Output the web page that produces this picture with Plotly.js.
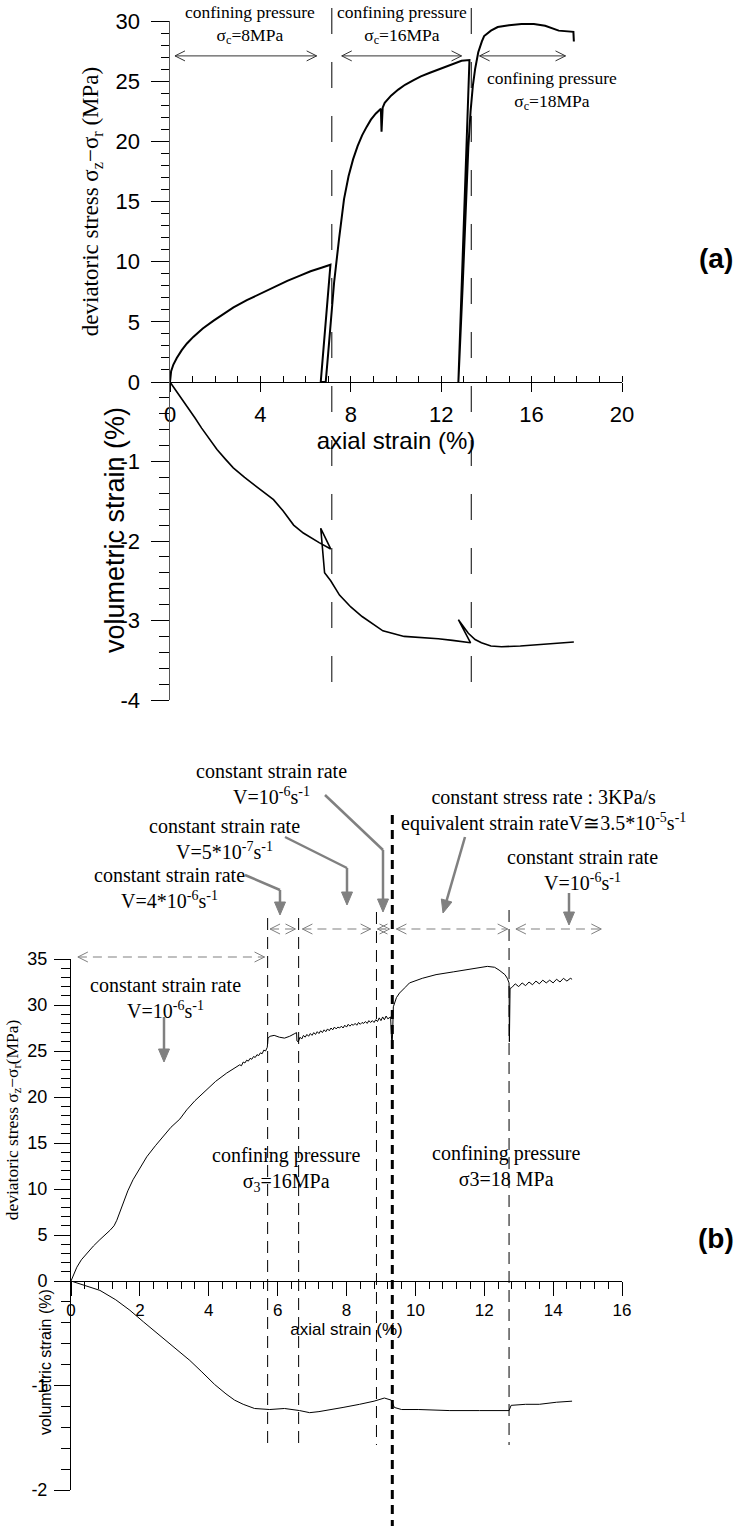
<!DOCTYPE html>
<html><head><meta charset="utf-8">
<script src="https://cdn.plot.ly/plotly-3.0.1.min.js"></script>
<style>html,body{margin:0;padding:0;background:#fff}#chart{width:741px;height:1528px}</style>
</head><body><div id="chart"></div>
<script>
// ---------- Panel (a) data ----------
const aStressStrain = [0,0.05,0.15,0.3,0.52,0.75,1.03,1.45,1.93,2.4,2.81,3.4,4.0,4.6,5.19,5.7,6.22,6.7,7.1,6.67,6.89,7.0,7.11,7.26,7.48,7.7,7.9,8.1,8.3,8.5,8.7,8.89,9.1,9.33,9.36,9.41,9.5,9.78,10.1,10.4,10.8,11.1,11.5,11.9,12.4,12.9,13.25,12.76,12.95,13.1,13.2,13.3,13.4,13.5,13.64,13.8,13.9,14.2,14.5,15.0,15.55,16.1,16.6,17.2,17.6,17.85,17.87];
const aStress = [0,0.9,1.45,2.0,2.65,3.2,3.75,4.45,5.1,5.7,6.2,6.8,7.35,7.9,8.4,8.8,9.2,9.5,9.75,0,0,2.4,4.6,8.25,11.9,15.2,17.1,18.5,19.6,20.5,21.2,21.8,22.3,22.7,20.8,22.8,23.2,23.8,24.3,24.7,25.1,25.4,25.7,26.0,26.35,26.7,26.75,0,8,15.2,19.5,22.5,24.6,26.0,27.4,28.3,28.75,29.2,29.5,29.65,29.75,29.75,29.6,29.2,29.15,29.1,28.3];
const aVolStrain = [0,0.3,0.75,1.1,1.4,1.75,2.08,2.45,2.8,3.3,3.86,4.58,5.0,5.47,5.9,6.22,6.6,7.11,6.67,6.84,7.11,7.5,8.0,8.5,8.9,9.42,10.36,11.0,11.87,12.5,13.2,13.3,12.76,13.0,13.2,13.5,13.78,14.2,14.67,15.5,16.3,17.1,17.87];
const aVol = [0,-0.12,-0.31,-0.45,-0.58,-0.72,-0.85,-0.97,-1.08,-1.2,-1.32,-1.48,-1.62,-1.8,-1.9,-1.96,-2.02,-2.1,-1.84,-2.4,-2.5,-2.68,-2.83,-2.95,-3.03,-3.13,-3.2,-3.21,-3.23,-3.25,-3.27,-3.28,-2.99,-3.08,-3.16,-3.24,-3.28,-3.32,-3.33,-3.32,-3.3,-3.28,-3.27];
const aBounds = [7.16, 13.33];
const aArrowStart = [0.22, 7.6, 13.7];
const aArrowEnd = [6.49, 12.9, 17.5];
const aArrowLevel = 27.1;
const aVolTicks = [-1,-2,-3,-4];
const aVolTickText = ['-1','-2','-3','-4'];

// ---------- Panel (b) data ----------
const bStrain = [0,0.1,0.17,0.3,0.46,0.65,0.84,1.0,1.13,1.25,1.33,1.42,1.51,1.65,1.8,2.0,2.2,2.45,2.67,2.9,3.16,3.36,3.6,3.94,4.2,4.52,4.8,
4.9,4.95,5.0,5.05,5.1,5.15,5.2,5.25,5.3,5.35,5.4,5.45,5.5,5.55,5.6,5.65,5.70,
5.72,5.78,5.9,6.05,6.2,6.35,6.5,6.55,6.56,6.60,
6.65,6.70,6.75,6.80,6.85,6.90,6.95,7.00,7.05,7.10,7.15,7.20,7.25,7.30,7.35,7.40,7.45,7.50,7.55,7.60,7.65,7.70,7.75,7.80,7.85,7.90,7.95,8.00,8.05,8.10,8.15,8.20,8.25,8.30,8.35,8.40,8.45,8.50,8.55,8.60,8.65,8.70,8.75,8.80,8.85,8.90,8.95,9.00,9.05,9.10,9.15,9.20,9.28,
9.30,9.32,9.34,9.36,9.45,9.54,9.7,9.83,10.2,10.6,11.1,11.57,12.09,12.3,12.43,12.6,12.67,12.72,12.73,12.75,
12.80,12.90,13.00,13.10,13.20,13.30,13.40,13.50,13.60,13.70,13.80,13.90,14.00,14.10,14.20,14.30,14.40,14.50,14.55];
const bStress = [0,0.8,1.5,2.3,3.0,3.8,4.5,5.0,5.5,6.0,6.6,7.5,8.5,9.8,11.0,12.3,13.5,14.7,15.7,16.7,17.6,18.6,19.6,20.8,21.7,22.6,23.3,
23.5,23.4,23.8,23.7,24.0,23.9,24.2,24.1,24.4,24.3,24.6,24.5,24.8,24.7,25.1,25.0,25.4,
26.4,26.6,26.7,26.5,26.4,26.6,26.9,27.0,26.1,26.0,
26.5,26.3,26.7,26.5,26.8,26.6,26.9,26.7,27.0,26.8,27.1,26.9,27.2,27.0,27.3,27.1,27.4,27.2,27.5,27.3,27.6,27.4,27.6,27.5,27.7,27.5,27.8,27.6,27.9,27.7,27.9,27.8,28.0,27.8,28.1,27.9,28.1,28.0,28.2,28.0,28.3,28.1,28.3,28.1,28.4,28.2,28.6,28.3,28.7,28.4,28.8,28.5,28.7,
27.5,25.4,27.0,29.8,30.8,31.3,31.9,32.4,32.9,33.3,33.6,33.9,34.2,34.1,33.8,33.3,32.9,32.4,26.0,31.8,
31.9,32.3,32.0,32.4,32.1,32.5,32.2,32.6,32.3,32.7,32.4,32.7,32.4,32.8,32.5,32.9,32.6,32.9,32.8];
const bVolStrain = [0,0.3,0.84,1.3,1.71,2.1,2.58,3.0,3.45,3.8,4.17,4.5,4.75,5.0,5.33,5.77,6.2,6.64,6.93,7.2,7.5,7.9,8.38,8.8,9.1,9.3,9.39,9.6,10.1,11.0,11.86,12.72,12.78,13.2,13.6,14.1,14.55];
const bVol = [0,-0.03,-0.09,-0.18,-0.28,-0.39,-0.52,-0.63,-0.76,-0.87,-0.99,-1.08,-1.14,-1.18,-1.22,-1.23,-1.22,-1.24,-1.26,-1.25,-1.23,-1.21,-1.18,-1.15,-1.12,-1.14,-1.21,-1.23,-1.23,-1.24,-1.24,-1.24,-1.19,-1.18,-1.18,-1.16,-1.15];
const bBounds = [5.71, 6.61, 8.87, 12.72];
const bBoundTops = [918, 918, 912, 910];
const bThickBound = 9.33;
const bArrowStart = [5.78, 6.72, 8.9, 9.45, 12.92];
const bArrowEnd = [6.52, 8.7, 9.25, 12.68, 15.4];
const bLongArrow = [0.2, 5.62];
const bVolTicks = [-1,-2];
const bVolTickText = ['-1','-2'];

// ---------- helpers ----------
const W = 741, H = 1528;
const PX = x => x / W;
const PY = y => 1 - y / H;
const SERIF = 'Liberation Serif, Times New Roman, serif';
const SANS = 'Liberation Sans, Arial, sans-serif';

const traces = [
  {x: aStressStrain, y: aStress, xaxis: 'x', yaxis: 'y', mode: 'lines', line: {color: '#000', width: 2}, hoverinfo: 'skip'},
  {x: aVolStrain, y: aVol, xaxis: 'x', yaxis: 'y2', mode: 'lines', line: {color: '#000', width: 1.6}, hoverinfo: 'skip'},
  {x: bStrain, y: bStress, xaxis: 'x2', yaxis: 'y3', mode: 'lines', line: {color: '#000', width: 1}, hoverinfo: 'skip'},
  {x: bVolStrain, y: bVol, xaxis: 'x2', yaxis: 'y4', mode: 'lines', line: {color: '#000', width: 1}, hoverinfo: 'skip'}
];

const shapes = [];
aBounds.forEach(b => shapes.push({type: 'line', xref: 'x', yref: 'paper', x0: b, x1: b, y0: PY(8), y1: PY(690), line: {color: '#000', width: 1, dash: '26px,28px'}}));
function chevrons(xref, yref, x0, x1, y, color) {
  shapes.push({type: 'path', xref: xref, yref: yref, xsizemode: 'pixel', ysizemode: 'pixel', xanchor: x0, yanchor: y, path: 'M10,5L0,0L10,-5', fillcolor: 'rgba(0,0,0,0)', line: {color: color, width: 1}});
  shapes.push({type: 'path', xref: xref, yref: yref, xsizemode: 'pixel', ysizemode: 'pixel', xanchor: x1, yanchor: y, path: 'M-10,5L0,0L-10,-5', fillcolor: 'rgba(0,0,0,0)', line: {color: color, width: 1}});
}
aArrowStart.forEach((s, i) => {
  shapes.push({type: 'line', xref: 'x', yref: 'y', x0: s, x1: aArrowEnd[i], y0: aArrowLevel, y1: aArrowLevel, line: {color: '#333', width: 1}});
  chevrons('x', 'y', s, aArrowEnd[i], aArrowLevel, '#333');
});
bBounds.forEach((b, i) => shapes.push({type: 'line', xref: 'x2', yref: 'paper', x0: b, x1: b, y0: PY(bBoundTops[i]), y1: PY(1445), line: {color: '#000', width: 1, dash: '12px,7px'}}));
shapes.push({type: 'line', xref: 'x2', yref: 'paper', x0: bThickBound, x1: bThickBound, y0: PY(815), y1: PY(1526), line: {color: '#000', width: 3, dash: '9px,6px'}});
bArrowStart.forEach((s, i) => {
  shapes.push({type: 'line', xref: 'x2', yref: 'paper', x0: s, x1: bArrowEnd[i], y0: PY(929), y1: PY(929), line: {color: '#808080', width: 1.2, dash: '9px,6px'}});
  chevrons('x2', 'paper', s, bArrowEnd[i], PY(929), '#808080');
});
shapes.push({type: 'line', xref: 'x2', yref: 'paper', x0: bLongArrow[0], x1: bLongArrow[1], y0: PY(957), y1: PY(957), line: {color: '#808080', width: 1.2, dash: '9px,6px'}});
chevrons('x2', 'paper', bLongArrow[0], bLongArrow[1], PY(957), '#808080');

// gray pointer arrows (pixel positions of the callouts)
const pointers = [
  [[325,795],[383,850],[383,912]],
  [[285,837],[347,868],[347,905]],
  [[245,875],[280,890],[280,915]],
  [[465,837],[443,913]],
  [[569,893],[569,925]],
  [[164,1017],[164,1062]]
];
pointers.forEach(pts => {
  for (let i = 0; i < pts.length - 1; i++) {
    let [xa, ya] = pts[i], [xb, yb] = pts[i + 1];
    if (i === pts.length - 2) {
      const dx = xb - xa, dy = yb - ya, L = Math.hypot(dx, dy);
      xb = xb - dx / L * 9; yb = yb - dy / L * 9;
    }
    shapes.push({type: 'line', xref: 'paper', yref: 'paper', x0: PX(xa), y0: PY(ya), x1: PX(xb), y1: PY(yb), line: {color: '#808080', width: 2.5}});
  }
  const [xa, ya] = pts[pts.length - 2], [xt, yt] = pts[pts.length - 1];
  const dx = xt - xa, dy = -(yt - ya), L = Math.hypot(dx, dy);
  const ux = dx / L, uy = dy / L;
  const bx = -ux * 13, by = -uy * 13, nx = -uy * 5.5, ny = ux * 5.5;
  shapes.push({type: 'path', xref: 'paper', yref: 'paper', xsizemode: 'pixel', ysizemode: 'pixel', xanchor: PX(xt), yanchor: PY(yt),
    path: `M0,0L${(bx + nx).toFixed(2)},${(by + ny).toFixed(2)}L${(bx - nx).toFixed(2)},${(by - ny).toFixed(2)}Z`,
    fillcolor: '#808080', line: {color: '#808080', width: 1}});
});

function txt(text, x, y, size, family, extra) {
  return Object.assign({text: text, xref: 'paper', yref: 'paper', x: PX(x), y: PY(y), xanchor: 'center', yanchor: 'middle', showarrow: false, font: {family: family, size: size, color: '#000'}}, extra || {});
}
const annotations = [
  txt('confining pressure<br>σ<sub>c</sub>=8MPa', 250, 25, 17.5, SERIF),
  txt('confining pressure<br>σ<sub>c</sub>=16MPa', 402, 25, 17.5, SERIF),
  txt('confining pressure<br>σ<sub>c</sub>=18MPa', 552, 90, 17.5, SERIF),
  txt('<b>(a)</b>', 716, 258, 28, SANS),
  txt('volumetric strain (%)', 115, 530, 27, SANS, {textangle: -90}),
  txt('constant strain rate<br>V=10<sup>-6</sup>s<sup>-1</sup>', 271, 784, 20, SERIF),
  txt('constant strain rate<br>V=5*10<sup>-7</sup>s<sup>-1</sup>', 224, 839, 20, SERIF),
  txt('constant strain rate<br>V=4*10<sup>-6</sup>s<sup>-1</sup>', 169, 888, 20, SERIF),
  txt('constant stress rate : 3KPa/s<br>equivalent strain rateV≅3.5*10<sup>-5</sup>s<sup>-1</sup>', 543, 810, 20, SERIF),
  txt('constant strain rate<br>V=10<sup>-6</sup>s<sup>-1</sup>', 582, 870, 20, SERIF),
  txt('constant strain rate<br>V=10<sup>-6</sup>s<sup>-1</sup>', 165, 998, 20, SERIF),
  txt('confining pressure<br>σ<sub>3</sub>=16MPa', 286, 1169, 20, SERIF),
  txt('confining pressure<br>σ3=18 MPa', 506, 1166, 20, SERIF),
  txt('<b>(b)</b>', 716, 1238, 28, SANS),
  txt('volumetric strain (%)', 45, 1362, 16, SANS, {textangle: -90})
];

const axBase = {showgrid: false, zeroline: false, showline: true, linecolor: '#000', linewidth: 1, tickcolor: '#000', tickwidth: 1, fixedrange: true};
const layout = {
  width: W, height: H, margin: {l: 0, r: 0, t: 0, b: 0, pad: 0},
  paper_bgcolor: '#fff', plot_bgcolor: 'rgba(0,0,0,0)', showlegend: false,
  xaxis: Object.assign({}, axBase, {domain: [PX(170), PX(622)], range: [0, 20], anchor: 'y', tick0: 0, dtick: 4,
    ticks: 'outside', ticklen: 9, minor: {dtick: 1, tick0: 0, ticks: 'inside', ticklen: 6, tickcolor: '#000'},
    tickfont: {family: SANS, size: 22, color: '#000'}, ticklabelstandoff: 4,
    title: {text: 'axial strain (%)', font: {family: SANS, size: 24, color: '#000'}, standoff: 0}}),
  yaxis: Object.assign({}, axBase, {domain: [PY(382), PY(21)], range: [0, 30], anchor: 'x', tick0: 0, dtick: 5,
    linecolor: '#555', linewidth: 1.5,
    ticks: 'outside', ticklen: 18, minor: {dtick: 1, tick0: 0, ticks: 'outside', ticklen: 8, tickcolor: '#000'},
    tickfont: {family: SANS, size: 22, color: '#000'}, ticklabelstandoff: 6,
    title: {text: 'deviatoric stress σ<sub>z</sub>−σ<sub>r</sub> (MPa)', font: {family: SERIF, size: 23, color: '#000'}, standoff: 10}}),
  yaxis2: Object.assign({}, axBase, {domain: [PY(700), PY(382)], range: [-4, 0], anchor: 'x',
    linecolor: '#555', linewidth: 1.5,
    tickmode: 'array', tickvals: aVolTicks, ticktext: aVolTickText,
    ticks: 'outside', ticklen: 18, minor: {dtick: 0.2, tick0: 0, ticks: 'outside', ticklen: 10, tickcolor: '#000'},
    tickfont: {family: SANS, size: 22, color: '#000'}, ticklabelstandoff: 6}),
  xaxis2: Object.assign({}, axBase, {domain: [PX(71), PX(622)], range: [0, 16], anchor: 'y3', tick0: 0, dtick: 2,
    ticks: 'outside', ticklen: 14, minor: {dtick: 0.4, tick0: 0, ticks: 'outside', ticklen: 7, tickcolor: '#000'},
    tickfont: {family: SANS, size: 17, color: '#000'}, ticklabelstandoff: 0,
    title: {text: 'axial strain (%)', font: {family: SANS, size: 17, color: '#000'}, standoff: 0}}),
  yaxis3: Object.assign({}, axBase, {domain: [PY(1281), PY(959)], range: [0, 35], anchor: 'x2', tick0: 0, dtick: 5,
    ticks: 'outside', ticklen: 16, minor: {dtick: 1, tick0: 0, ticks: 'outside', ticklen: 9, tickcolor: '#000'},
    tickfont: {family: SANS, size: 18, color: '#000'}, ticklabelstandoff: 3,
    title: {text: 'deviatoric stress σ<sub>z</sub>−σ<sub>r</sub>(MPa)', font: {family: SERIF, size: 17.5, color: '#000'}, standoff: 4}}),
  yaxis4: Object.assign({}, axBase, {domain: [PY(1490), PY(1281)], range: [-2, 0], anchor: 'x2',
    tickmode: 'array', tickvals: bVolTicks, ticktext: bVolTickText,
    ticks: 'outside', ticklen: 16, minor: {dtick: 0.2, tick0: 0, ticks: 'outside', ticklen: 9, tickcolor: '#000'},
    tickfont: {family: SANS, size: 18, color: '#000'}, ticklabelstandoff: 3}),
  shapes: shapes,
  annotations: annotations
};

Plotly.newPlot('chart', traces, layout, {staticPlot: true, displayModeBar: false});
</script>
</body></html>
